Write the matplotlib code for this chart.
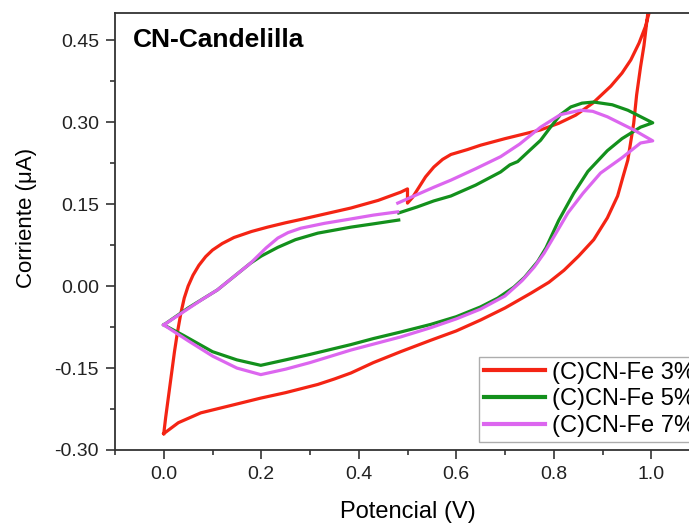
import numpy as np
import matplotlib
matplotlib.use("Agg")
import matplotlib.pyplot as plt
from matplotlib.ticker import MultipleLocator, FormatStrFormatter

plt.rcParams['font.family'] = ['Liberation Sans', 'DejaVu Sans']

# --- data (forward scan, then reverse) ---
x_fe3 = [0.0, 0.004, 0.01, 0.016, 0.022, 0.028, 0.035, 0.042, 0.05, 0.06, 0.072, 0.086,
         0.1, 0.12, 0.144, 0.18, 0.213, 0.25, 0.281, 0.33, 0.384, 0.44, 0.486, 0.5, 0.5,
         0.51, 0.52, 0.537, 0.554, 0.572, 0.589, 0.623, 0.65, 0.7, 0.773, 0.81, 0.845,
         0.88, 0.917, 0.94, 0.958, 0.975, 0.988, 1.0,
         0.993, 0.985, 0.978, 0.97, 0.964, 0.952, 0.942, 0.931, 0.91, 0.882, 0.851, 0.821,
         0.79, 0.753, 0.7, 0.65, 0.6, 0.548, 0.486, 0.43, 0.384, 0.35, 0.316, 0.25, 0.199,
         0.14, 0.076, 0.03, 0.0]
y_fe3 = [-0.27, -0.24, -0.2, -0.16, -0.12, -0.085, -0.05, -0.022, 0.0, 0.02, 0.038, 0.054,
         0.066, 0.078, 0.089, 0.1, 0.108, 0.116, 0.122, 0.132, 0.143, 0.157, 0.172, 0.178, 0.152,
         0.162, 0.176, 0.2, 0.218, 0.232, 0.241, 0.25, 0.258, 0.27, 0.286, 0.298, 0.313,
         0.335, 0.366, 0.39, 0.414, 0.445, 0.475, 0.515,
         0.5, 0.44, 0.401, 0.35, 0.298, 0.231, 0.2, 0.165, 0.125, 0.085, 0.055, 0.029,
         0.007, -0.013, -0.04, -0.062, -0.082, -0.099, -0.12, -0.14, -0.159, -0.17, -0.18,
         -0.195, -0.205, -0.218, -0.232, -0.25, -0.27]

x_fe5 = [0.0, 0.05, 0.11, 0.178, 0.2, 0.234, 0.27, 0.316, 0.384, 0.43, 0.482, np.nan,
         0.482, 0.52, 0.554, 0.589, 0.64, 0.691, 0.71, 0.726, 0.75, 0.773, 0.795, 0.814,
         0.835, 0.858, 0.882, 0.92, 0.952, 1.003,
         0.978, 0.94, 0.91, 0.87, 0.841, 0.81, 0.784, 0.767, 0.74, 0.718, 0.685, 0.65,
         0.6, 0.548, 0.486, 0.43, 0.384, 0.3, 0.25, 0.199, 0.15, 0.1, 0.076, 0.04, 0.0]
y_fe5 = [-0.071, -0.04, -0.007, 0.042, 0.055, 0.071, 0.085, 0.097, 0.108, 0.114, 0.121, np.nan,
         0.134, 0.145, 0.156, 0.165, 0.185, 0.209, 0.222, 0.228, 0.248, 0.267, 0.293, 0.314,
         0.328, 0.335, 0.337, 0.332, 0.322, 0.299,
         0.291, 0.27, 0.248, 0.21, 0.17, 0.12, 0.07, 0.045, 0.016, -0.002, -0.022, -0.038,
         -0.056, -0.07, -0.084, -0.096, -0.107, -0.125, -0.135, -0.145, -0.135, -0.12,
         -0.108, -0.09, -0.071]

x_fe7 = [0.0, 0.076, 0.11, 0.178, 0.21, 0.234, 0.255, 0.281, 0.33, 0.384, 0.43, 0.48, np.nan,
         0.48, 0.554, 0.589, 0.64, 0.691, 0.73, 0.773, 0.814, 0.855, 0.88, 0.91, 0.964, 1.003,
         0.978, 0.94, 0.896, 0.86, 0.829, 0.8, 0.78, 0.76, 0.735, 0.7, 0.65, 0.6, 0.548,
         0.486, 0.384, 0.3, 0.25, 0.199, 0.15, 0.1, 0.05, 0.0]
y_fe7 = [-0.071, -0.026, -0.007, 0.042, 0.07, 0.088, 0.098, 0.106, 0.115, 0.123, 0.13, 0.136,
         np.nan,
         0.152, 0.181, 0.194, 0.215, 0.237, 0.26, 0.291, 0.314, 0.322, 0.32, 0.31, 0.286, 0.266,
         0.262, 0.235, 0.207, 0.17, 0.134, 0.09, 0.06, 0.035, 0.01, -0.018, -0.042, -0.06,
         -0.076, -0.093, -0.117, -0.14, -0.152, -0.162, -0.15, -0.128, -0.1, -0.071]

labels = ['(C)CN-Fe 3%', '(C)CN-Fe 5%', '(C)CN-Fe 7%']
colors = ['#f42414', '#13901c', '#dc66ef']

fig = plt.figure(figsize=(6.89, 5.25), dpi=100)
# axes runs past the right edge like the cropped original
ax = fig.add_axes([115/689, 75/525, 585/689, 437/525])

for xs, ys, lab, c in zip([x_fe3, x_fe5, x_fe7], [y_fe3, y_fe5, y_fe7], labels, colors):
    ax.plot(xs, ys, color=c, lw=2.3, label=lab, solid_joinstyle='round')

ax.set_xlim(-0.1, 1.1)
ax.set_ylim(-0.30, 0.50)
ax.xaxis.set_major_locator(MultipleLocator(0.2))
ax.xaxis.set_minor_locator(MultipleLocator(0.1))
ax.yaxis.set_major_locator(MultipleLocator(0.15))
ax.yaxis.set_minor_locator(MultipleLocator(0.075))
ax.xaxis.set_major_formatter(FormatStrFormatter('%.1f'))
ax.yaxis.set_major_formatter(FormatStrFormatter('%.2f'))
ax.tick_params(which='major', direction='out', length=6.5, width=1.1, labelsize=14, pad=5,
               colors='#222222')
ax.tick_params(which='minor', direction='out', length=3.5, width=1.1, colors='#222222')
for sp in ax.spines.values():
    sp.set_linewidth(1.3)
    sp.set_color('#333333')

ax.set_xlabel('Potencial (V)', fontsize=17, labelpad=13)
ax.set_ylabel('Corriente (μA)', fontsize=16)
ax.yaxis.set_label_coords(-0.133, 0.531)

ax.text(0.031, 0.938, 'CN-Candelilla', transform=ax.transAxes, fontsize=19,
        fontweight='bold', va='center', ha='left')

leg = ax.legend(loc='upper left', bbox_to_anchor=(479/689, 168/525),
                bbox_transform=fig.transFigure, fontsize=17, frameon=True, fancybox=False,
                handlelength=2.6, handletextpad=0.3, labelspacing=0.2, borderpad=0.2,
                borderaxespad=0)
leg.get_frame().set_edgecolor('#999999')
leg.get_frame().set_linewidth(1.0)
for line in leg.get_lines():
    line.set_linewidth(3)

fig.savefig('out.png', dpi=100)
